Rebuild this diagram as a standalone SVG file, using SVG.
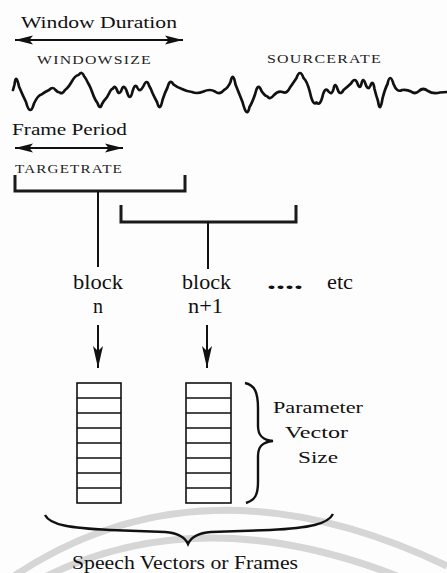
<svg xmlns="http://www.w3.org/2000/svg" width="447" height="573" viewBox="0 0 447 573">
<style>
  .lbl { font-family: "Liberation Serif", "Times New Roman", serif; fill: #111; }
  .big { font-size: 17px; }
  .blk { font-size: 20px; }
  .caps { font-family: "Liberation Serif", "Times New Roman", serif; font-size: 13px; fill: #222; letter-spacing: 1px; }
  .ln { stroke: #111; fill: none; stroke-linecap: butt; }
  .brk { stroke: #1a1a1a; stroke-width: 3; fill: none; }
  .cell { stroke: #111; stroke-width: 1.6; fill: #fff; }
  .wm { stroke: #d6d6d6; stroke-width: 7; fill: none; }
</style>
<defs>
  <marker id="ah" viewBox="0 0 20 10" refX="20" refY="5" markerWidth="18" markerHeight="10" markerUnits="userSpaceOnUse" orient="auto-start-reverse">
    <path d="M0,0 L20,5 L0,10 L4,5 z" fill="#111"/>
  </marker>
  <marker id="ahd" viewBox="0 0 22 10" refX="22" refY="5" markerWidth="22" markerHeight="10" markerUnits="userSpaceOnUse" orient="auto">
    <path d="M0,0 L22,5 L0,10 L5,5 z" fill="#111"/>
  </marker>
</defs>
<rect width="447" height="573" fill="#fdfdfd"/>

<g id="watermark">
  <path class="wm" d="M 8 580 Q 200 448 447 566"/>
  <path class="wm" d="M 35 582 Q 200 494 412 582"/>
</g>

<g id="window-duration">
  <text class="lbl big" x="21" y="28" textLength="156" lengthAdjust="spacingAndGlyphs">Window Duration</text>
</g>
<g id="windowsize">
  <text class="caps" x="37" y="64" textLength="115" lengthAdjust="spacingAndGlyphs">WINDOWSIZE</text>
</g>
<g id="sourcerate">
  <text class="caps" x="267" y="63" textLength="115" lengthAdjust="spacingAndGlyphs">SOURCERATE</text>
</g>

<g id="waveform">
  <path fill="none" stroke="#111" stroke-width="2.7" stroke-linejoin="round" stroke-linecap="round"
    d="M13,90 L14.5,84.5 Q16,72.5 19,86.5 Q22,93.75 26,102 Q30,117.25 34,103.5 Q38,95 41.5,94.5 Q45,91.75 49,90 Q53,86 55.5,90 Q58,92.75 60,92.5 Q62,94.75 65,90 Q68,88 71.5,82 Q75,75.5 78.5,75 Q82,70.5 84,76 Q86,78.5 88,83 Q90,86 92.5,93 Q95,100 97.5,103 Q100,110.5 102,104 Q104,100.5 105.5,99 Q107,97.75 109,93.5 Q111,89 113,88.5 Q115,84.75 117,90 Q119,96 121.5,90 Q124,83 127,92 Q130,102.25 132.5,91.5 Q135,82.25 137.5,88 Q140,93 143.5,86 Q147,78.25 149,85.5 Q151,88.75 152.5,93 Q154,96.5 157,102 Q160,113 162.5,100 Q165,92.25 167.5,87.5 Q170,78 173.5,84.5 Q177,87.25 182,89 Q187,91.5 192,92 Q197,94.25 203.5,91.5 Q210,88.5 215,91.5 Q220,95.25 224,90 Q228,88 230.5,82 Q233,70.75 235.5,84.5 Q238,90.75 242.5,102 Q247,119.5 249.5,107 Q252,103.25 255,94.5 Q258,81.25 261.5,91 Q265,96.25 267.5,96.5 Q270,100.25 274,95 Q278,90.5 282.5,92 Q287,94.25 290,87.5 Q293,83.25 296.5,78 Q300,68 303.5,78 Q307,80.75 310,92.5 Q313,106.5 316.5,102.5 Q320,106.5 322.5,96.5 Q325,86 328.5,91.5 Q332,95.75 333.5,89 Q335,81 337.5,89 Q340,96.5 343.5,90 Q347,87.25 351,83.5 Q355,76.5 357.5,83.5 Q360,90.5 361.5,83.5 Q363,76.25 365.5,84 Q368,91.25 370.5,85.5 Q373,78.75 374.5,89 Q376,95 378,101 Q380,114.25 382.5,98.5 Q385,88.75 387.5,84 Q390,72 393.5,84 Q397,93 402,90 Q407,89.25 411,91.5 Q415,94.75 419,91 Q423,87 428,91 Q433,94.25 440,92.5 L447,92"/>
</g>

<g id="frame-period">
  <text class="lbl big" x="12" y="135" textLength="115" lengthAdjust="spacingAndGlyphs">Frame Period</text>
</g>
<g id="targetrate">
  <text class="caps" x="15" y="173" textLength="108" lengthAdjust="spacingAndGlyphs">TARGETRATE</text>
</g>

<g id="bracket-n">
  <path class="brk" d="M 15 175 L 15 191 L 185 191 L 185 175"/>
</g>
<g id="bracket-n1">
  <path class="brk" d="M 121 205 L 121 222 L 296 222 L 296 205"/>
</g>

<g id="block-n">
  <text class="lbl blk" x="73" y="289" textLength="50" lengthAdjust="spacingAndGlyphs">block</text>
  <text class="lbl blk" x="93" y="313">n</text>
</g>
<g id="block-n1">
  <text class="lbl blk" x="182" y="289" textLength="49" lengthAdjust="spacingAndGlyphs">block</text>
  <text class="lbl blk" x="188" y="313" textLength="35" lengthAdjust="spacingAndGlyphs">n+1</text>
</g>
<g id="etc">
  <text class="lbl blk" x="267" y="289" font-weight="bold" textLength="36" lengthAdjust="spacingAndGlyphs">....</text>
  <text class="lbl blk" x="327" y="289" textLength="26" lengthAdjust="spacingAndGlyphs" fill="#333">etc</text>
</g>

<g id="vector-n">
  <rect class="cell" x="77" y="383" width="44" height="120"/>
  <path class="ln" stroke-width="1.5" d="M77 398H121M77 413H121M77 428H121M77 443H121M77 458H121M77 473H121M77 488H121"/>
</g>
<g id="vector-n1">
  <rect class="cell" x="186" y="383" width="45" height="120"/>
  <path class="ln" stroke-width="1.5" d="M186 398H231M186 413H231M186 428H231M186 443H231M186 458H231M186 473H231M186 488H231"/>
</g>

<g id="param-brace">
  <path class="ln" stroke-width="2.4" d="M 245 383 C 255 385, 258 393, 258 408 L 258 426 C 258 435, 262 440, 273 441 C 262 442, 258 447, 258 456 L 258 482 C 258 495, 255 500, 246 503"/>
  <text class="lbl big" x="273" y="413" textLength="90" lengthAdjust="spacingAndGlyphs">Parameter</text>
  <text class="lbl big" x="285" y="438" textLength="63" lengthAdjust="spacingAndGlyphs">Vector</text>
  <text class="lbl big" x="298" y="463" textLength="40" lengthAdjust="spacingAndGlyphs">Size</text>
</g>

<g id="frames-brace">
  <path class="ln" stroke-width="2.4" d="M 45 515 C 50 525, 70 528, 110 530 L 165 532 C 178 533, 185 537, 188 544 C 191 537, 198 533, 211 532 L 270 530 C 310 528, 328 524, 333 514"/>
  <text class="lbl" font-size="18" x="72" y="569" textLength="226" lengthAdjust="spacingAndGlyphs">Speech Vectors or Frames</text>
</g>

<g id="connectors">
  <line class="ln" stroke-width="1.8" x1="15" y1="40" x2="183" y2="40" marker-start="url(#ah)" marker-end="url(#ah)"/>
  <line class="ln" stroke-width="1.8" x1="15" y1="148" x2="123" y2="148" marker-start="url(#ah)" marker-end="url(#ah)"/>
  <line class="ln" stroke-width="2" x1="98" y1="191" x2="98" y2="267"/>
  <line class="ln" stroke-width="2" x1="208" y1="222" x2="208" y2="269"/>
  <line class="ln" stroke-width="2" x1="98" y1="325" x2="98" y2="368" marker-end="url(#ahd)"/>
  <line class="ln" stroke-width="2" x1="207" y1="325" x2="207" y2="368" marker-end="url(#ahd)"/>
</g>
</svg>
